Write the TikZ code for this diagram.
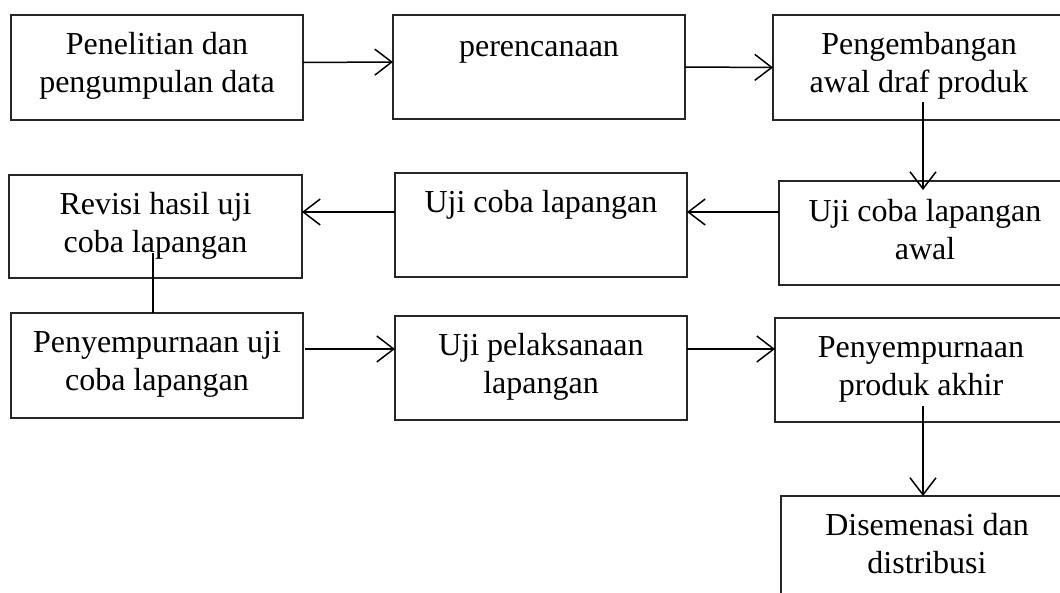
\documentclass[tikz,border=0pt]{standalone}
\usepackage{fontspec}
\setmainfont{Liberation Serif}
\usetikzlibrary{arrows.meta}
\tikzset{
  box/.style={draw=black!85, line width=1.1pt, inner sep=0pt, outer sep=0pt, anchor=north west,
              minimum width=292pt, minimum height=105pt},
  lbl/.style={inner sep=0pt, anchor=base, font=\fontsize{32}{38}\selectfont},
  conn/.style={line width=1.5pt},
  arr/.style={conn, -{Straight Barb[length=17pt,width=26pt,line width=1.5pt]}},
}
\newcommand{\lines}[1]{\parbox[t]{290pt}{\centering #1}}
\begin{document}
\begin{tikzpicture}[x=1pt,y=1pt]
\useasboundingbox (0,0) rectangle (1060,-593);
\clip (0,0) rectangle (1060,-593);
% boxes
\node[box] (b1) at (11,-15) {};
\node[box, minimum height=104pt] (b2) at (393,-15) {};
\node[box] (b3) at (773,-15) {};
\node[box, minimum height=104pt] (b4) at (779,-181) {};
\node[box, minimum height=104pt] (b5) at (395,-173) {};
\node[box, minimum width=293pt, minimum height=103pt] (b6) at (9,-175) {};
\node[box] (b7) at (11,-313) {};
\node[box, minimum height=104pt] (b8) at (395,-316) {};
\node[box, minimum height=104pt] (b9) at (775,-318) {};
\node[box, minimum height=130pt] (b10) at (781,-496) {};
% labels
\node[lbl] (t1) at ([yshift=-40pt]b1.north) {\lines{Penelitian dan\\pengumpulan data}};
\node[lbl] (t2) at ([yshift=-42pt]b2.north) {\lines{perencanaan}};
\node[lbl] (t3) at ([yshift=-40pt]b3.north) {\lines{Pengembangan\\awal draf produk}};
\node[lbl] (t4) at ([yshift=-41pt]b4.north) {\lines{Uji coba lapangan\\awal}};
\node[lbl] (t5) at ([yshift=-40pt]b5.north) {\lines{Uji coba lapangan}};
\node[lbl] (t6) at ([yshift=-40pt]b6.north) {\lines{Revisi hasil uji\\coba lapangan}};
\node[lbl] (t7) at ([yshift=-40pt]b7.north) {\lines{Penyempurnaan uji\\coba lapangan}};
\node[lbl] (t8) at ([yshift=-40pt]b8.north) {\lines{Uji pelaksanaan\\lapangan}};
\node[lbl] (t9) at ([yshift=-40pt]b9.north) {\lines{Penyempurnaan\\produk akhir}};
\node[lbl] (t10) at ([yshift=-39pt]b10.north) {\lines{Disemenasi dan\\distribusi}};
% connectors
\draw[arr] ([yshift=5pt]b1.east) -- ([yshift=5pt]b2.west);
\draw[arr] (b2.east) -- (b3.west);
\draw[arr] ([xshift=4pt,yshift=18pt]b3.south) -- ([xshift=-2pt,yshift=-9pt]b4.north);
\draw[arr] ([yshift=21pt]b4.west) -- ([yshift=13pt]b5.east);
\draw[arr] ([yshift=13pt]b5.west) -- ([yshift=14.5pt]b6.east);
\draw[conn] ([xshift=-2.5pt,yshift=25pt]b6.south) -- ([xshift=-4pt]b7.north);
\draw[arr] ([xshift=2pt,yshift=16.5pt]b7.east) -- ([yshift=19pt]b8.west);
\draw[arr] ([yshift=19pt]b8.east) -- ([yshift=21pt]b9.west);
\draw[arr] ([xshift=2pt,yshift=16pt]b9.south) -- ([xshift=-4pt]b10.north);
\end{tikzpicture}
\end{document}
